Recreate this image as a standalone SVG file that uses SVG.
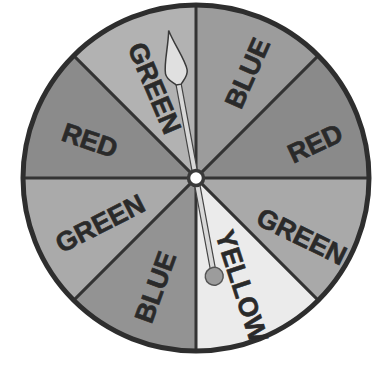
<svg xmlns="http://www.w3.org/2000/svg" width="386" height="365" viewBox="0 0 386 365">
<style>
.lbl{font-family:"Liberation Sans",Arial,sans-serif;font-weight:bold;font-size:27px;fill:#2a2a2a;stroke:#2a2a2a;stroke-width:0.6;text-anchor:middle}
.div{stroke:#333;stroke-width:3;fill:none}
</style>
<rect width="386" height="365" fill="#fff"/>
<g id="sectors">
<path id="s-blue1" d="M196,178 L196,5 A173,173 0 0 1 318.33,55.67 Z" fill="#9c9c9c"/>
<path id="s-red1" d="M196,178 L318.33,55.67 A173,173 0 0 1 369,178 Z" fill="#8a8a8a"/>
<path id="s-green1" d="M196,178 L369,178 A173,173 0 0 1 318.33,300.33 Z" fill="#a9a9a9"/>
<path id="s-yellow" d="M196,178 L318.33,300.33 A173,173 0 0 1 196,351 Z" fill="#ebebeb"/>
<path id="s-blue2" d="M196,178 L196,351 A173,173 0 0 1 73.67,300.33 Z" fill="#939393"/>
<path id="s-green2" d="M196,178 L73.67,300.33 A173,173 0 0 1 23,178 Z" fill="#aaaaaa"/>
<path id="s-red2" d="M196,178 L23,178 A173,173 0 0 1 73.67,55.67 Z" fill="#8b8b8b"/>
<path id="s-green3" d="M196,178 L73.67,55.67 A173,173 0 0 1 196,5 Z" fill="#b2b2b2"/>
</g>
<g id="dividers">
<line class="div" x1="196" y1="5" x2="196" y2="351"/>
<line class="div" x1="23" y1="178" x2="369" y2="178"/>
<line class="div" x1="73.67" y1="55.67" x2="318.33" y2="300.33"/>
<line class="div" x1="318.33" y1="55.67" x2="73.67" y2="300.33"/>
<circle cx="196" cy="178" r="173" fill="none" stroke="#2e2e2e" stroke-width="5"/>
</g>
<g id="labels">
<text class="lbl" transform="translate(247,73) rotate(-66)" y="9.7">BLUE</text>
<text class="lbl" transform="translate(315,143) rotate(-25)" y="9.7">RED</text>
<text class="lbl" transform="translate(302,236) rotate(26)" y="9.7">GREEN</text>
<text class="lbl" transform="translate(242,286) rotate(72)" y="9.7">YELLOW</text>
<text class="lbl" transform="translate(155,287) rotate(-70)" y="9.7">BLUE</text>
<text class="lbl" transform="translate(100,223) rotate(-27)" y="9.7">GREEN</text>
<text class="lbl" transform="translate(90,140) rotate(19)" y="9.7">RED</text>
<text class="lbl" transform="translate(155,88) rotate(67)" y="9.7">GREEN</text>
</g>
<g id="needle" transform="translate(196,178) rotate(-10.5)">
<rect x="-2.6" y="-100" width="5.2" height="196" fill="#d8d8d8" stroke="#444" stroke-width="1.2"/>
<path d="M0,-150 C-3,-135 -11,-118 -11,-108 C-11,-102 -5,-98 -2.5,-95 L2.5,-95 C5,-98 11,-102 11,-108 C11,-118 3,-135 0,-150 Z" fill="#e0e0e0" stroke="#3a3a3a" stroke-width="1.5"/>
<circle cx="0" cy="100" r="9" fill="#9c9c9c" stroke="#555" stroke-width="1.5"/>
</g>
<g id="hub">
<circle cx="196" cy="178" r="7.5" fill="#fff" stroke="#3a3a3a" stroke-width="3.5"/>
</g>
</svg>
